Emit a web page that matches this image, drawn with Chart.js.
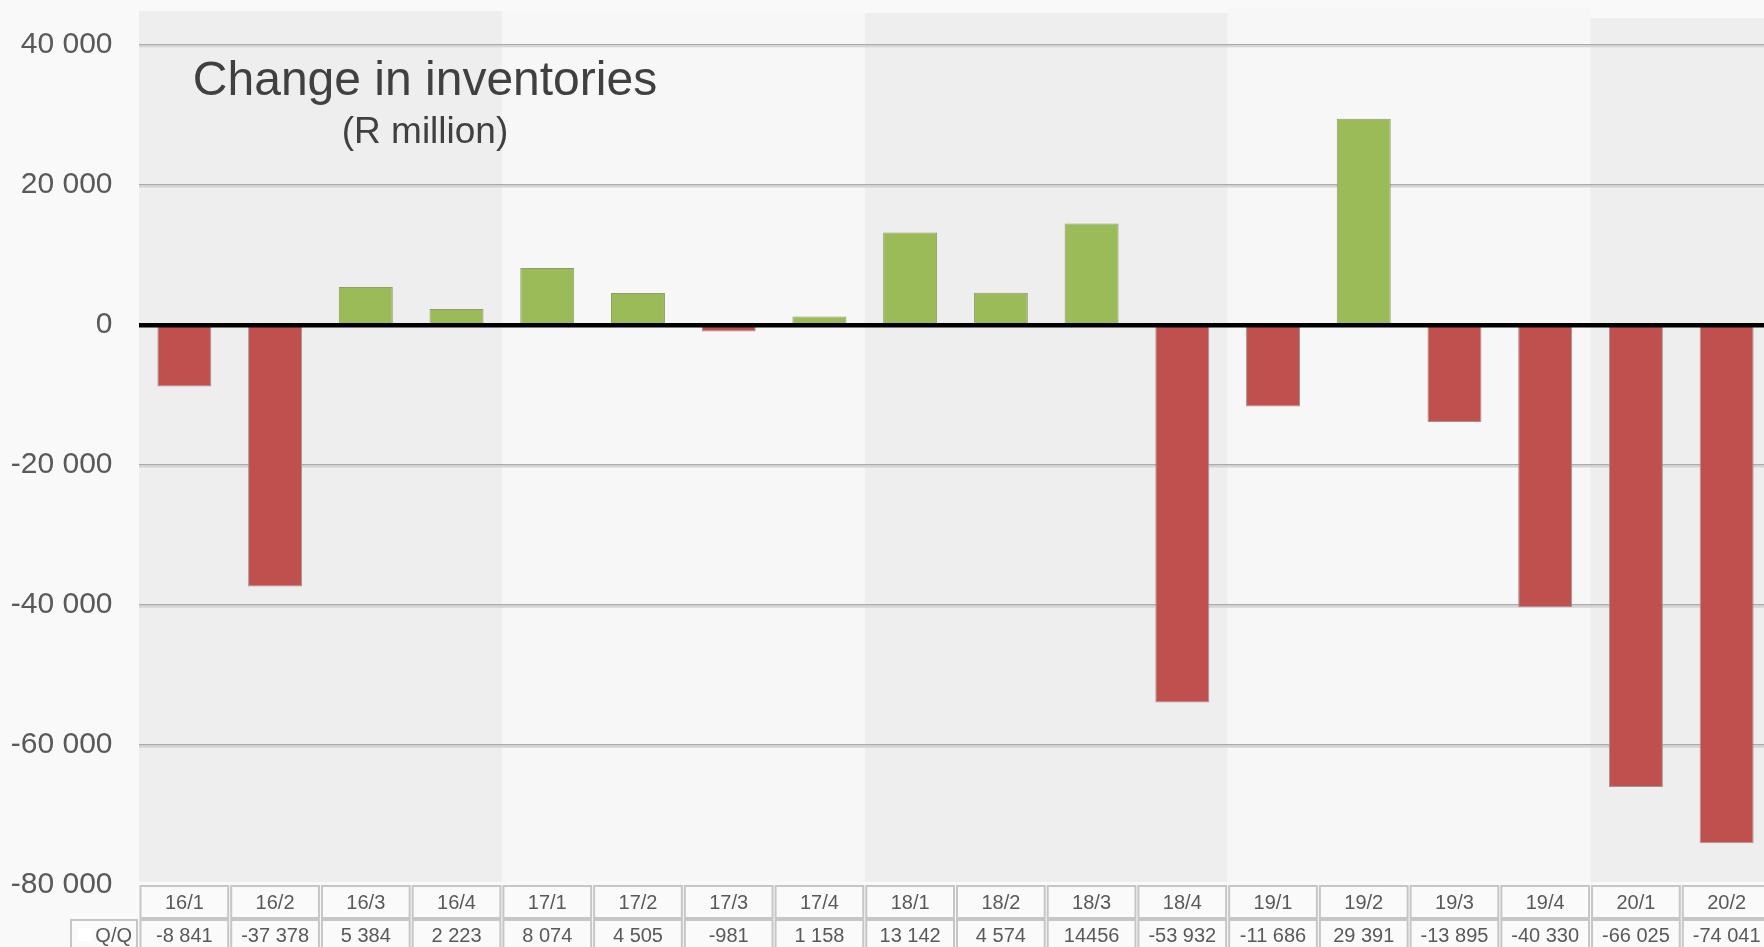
<!DOCTYPE html>
<html>
<head>
<meta charset="utf-8">
<script src="https://cdn.jsdelivr.net/npm/chart.js@4/dist/chart.umd.min.js"></script>
<style>
html,body{margin:0;padding:0;background:#f9f9f9;overflow:hidden;}
canvas{display:block;}
</style>
</head>
<body>
<canvas id="c" width="1776" height="947"></canvas>
<script>
const categories = ['16/1','16/2','16/3','16/4','17/1','17/2','17/3','17/4','18/1','18/2','18/3','18/4','19/1','19/2','19/3','19/4','20/1','20/2'];
const values = [-8841,-37378,5384,2223,8074,4505,-981,1158,13142,4574,14456,-53932,-11686,29391,-13895,-40330,-66025,-74041];
const tableValues = ['-8 841','-37 378','5 384','2 223','8 074','4 505','-981','1 158','13 142','4 574','14456','-53 932','-11 686','29 391','-13 895','-40 330','-66 025','-74 041'];
const rowLabel = 'Q/Q';
const titleText = 'Change in inventories';
const subtitleText = '(R million)';
const yMin = -80000, yMax = 40000, yStep = 20000;

const POS = '#9bbb59', NEG = '#c0504d';
const FONT = '"Liberation Sans", Arial, sans-serif';

function fmt(v){
  const s = Math.abs(v).toString().replace(/\B(?=(\d{3})+(?!\d))/g,' ');
  return (v<0?'-':'') + s;
}

const decor = {
  id:'decor',
  beforeDraw(chart){
    const {ctx, chartArea, scales} = chart;
    const x = scales.x;
    const w = (chartArea.right - chartArea.left)/categories.length;
    ctx.save();
    ctx.fillStyle = '#f9f9f9';
    ctx.fillRect(0,0,chart.width,chart.height);
    const bands = [
      {from:0,to:3,color:'#eeeeee',top:11},
      {from:4,to:7,color:'#f7f7f7',top:11},
      {from:8,to:11,color:'#eeeeee',top:13},
      {from:12,to:15,color:'#f7f7f7',top:7},
      {from:16,to:17,color:'#eeeeee',top:18}
    ];
    bands.forEach(b=>{
      const l = x.getPixelForValue(b.from) - w/2;
      let r = x.getPixelForValue(b.to) + w/2;
      if (b.to === categories.length-1) r = chart.width;
      ctx.fillStyle = b.color;
      ctx.fillRect(l, b.top, r-l, 882-b.top);
    });
    ctx.restore();
  },
  beforeDatasetsDraw(chart){
    const {ctx, chartArea, scales} = chart;
    const y = scales.y;
    ctx.save();
    ctx.strokeStyle = '#d4d4d4';
    ctx.lineWidth = 2;
    y.ticks.forEach(t=>{
      if (t.value === 0 || t.value === yMin) return;
      const py = y.getPixelForValue(t.value) + 1.8;
      ctx.beginPath();
      ctx.moveTo(chartArea.left, py);
      ctx.lineTo(chart.width, py);
      ctx.stroke();
    });
    ctx.restore();
  },
  afterDatasetsDraw(chart){
    const {ctx, chartArea, scales} = chart;
    const y0 = scales.y.getPixelForValue(0);
    ctx.save();
    ctx.strokeStyle = '#000';
    ctx.lineWidth = 4.5;
    ctx.beginPath();
    ctx.moveTo(chartArea.left, y0 + 0.5);
    ctx.lineTo(chart.width, y0 + 0.5);
    ctx.stroke();
    ctx.restore();
  },
  afterDraw(chart){
    const {ctx, chartArea, scales} = chart;
    const x = scales.x;
    const w = (chartArea.right - chartArea.left)/categories.length;
    ctx.save();
    // title
    ctx.fillStyle = '#404040';
    ctx.textAlign = 'center';
    ctx.textBaseline = 'middle';
    ctx.font = '48px ' + FONT;
    ctx.fillText(titleText, 425, 82);
    ctx.font = '37px ' + FONT;
    ctx.fillText(subtitleText, 425, 133);
    // table
    ctx.lineWidth = 2;
    ctx.strokeStyle = '#c6c6c6';
    ctx.font = '20px ' + FONT;
    categories.forEach((c,i)=>{
      const cx = x.getPixelForValue(i);
      const l = cx - w/2 + 1.5, cw = w - 3;
      ctx.fillStyle = '#fafafa';
      ctx.fillRect(l, 886, cw, 32);
      ctx.fillRect(l, 920, cw, 34);
      ctx.strokeRect(l, 886, cw, 32);
      ctx.strokeRect(l, 920, cw, 34);
      ctx.fillStyle = '#595959';
      ctx.fillText(c, cx, 903);
      ctx.fillText(tableValues[i], cx, 936);
    });
    // row header
    ctx.fillStyle = '#fafafa';
    ctx.fillRect(71, 920, chartArea.left - 73, 34);
    ctx.strokeRect(71, 920, chartArea.left - 73, 34);
    ctx.fillStyle = '#ffffff';
    ctx.fillRect(78, 928, 14, 13);
    ctx.fillStyle = '#595959';
    ctx.textAlign = 'right';
    ctx.fillText(rowLabel, 132, 936);
    ctx.restore();
  }
};

new Chart(document.getElementById('c'), {
  type:'bar',
  data:{
    labels: categories,
    datasets:[{
      data: values,
      backgroundColor: values.map(v => v >= 0 ? POS : NEG),
      borderColor: values.map(v => v >= 0 ? '#8c9f6a' : '#a39494'),
      borderWidth: 1,
      borderSkipped: false,
      barPercentage: 0.595,
      categoryPercentage: 1.0
    }]
  },
  options:{
    responsive:false,
    animation:false,
    devicePixelRatio:1,
    layout:{padding:{left:0,right:4,top:43,bottom:62}},
    plugins:{legend:{display:false},tooltip:{enabled:false}},
    scales:{
      x:{display:false, offset:true},
      y:{
        min:yMin, max:yMax,
        border:{display:false},
        grid:{
          drawTicks:false,
          lineWidth:1.5,
          color: c => (c.tick && (c.tick.value === 0 || c.tick.value === yMin)) ? 'rgba(0,0,0,0)' : '#ababab'
        },
        ticks:{
          stepSize:yStep,
          padding:26.5,
          color:'#595959',
          font:{size:30, family:FONT},
          callback: v => fmt(v)
        },
        afterFit: s => { s.width = 139; }
      }
    }
  },
  plugins:[decor]
});
</script>
</body>
</html>
